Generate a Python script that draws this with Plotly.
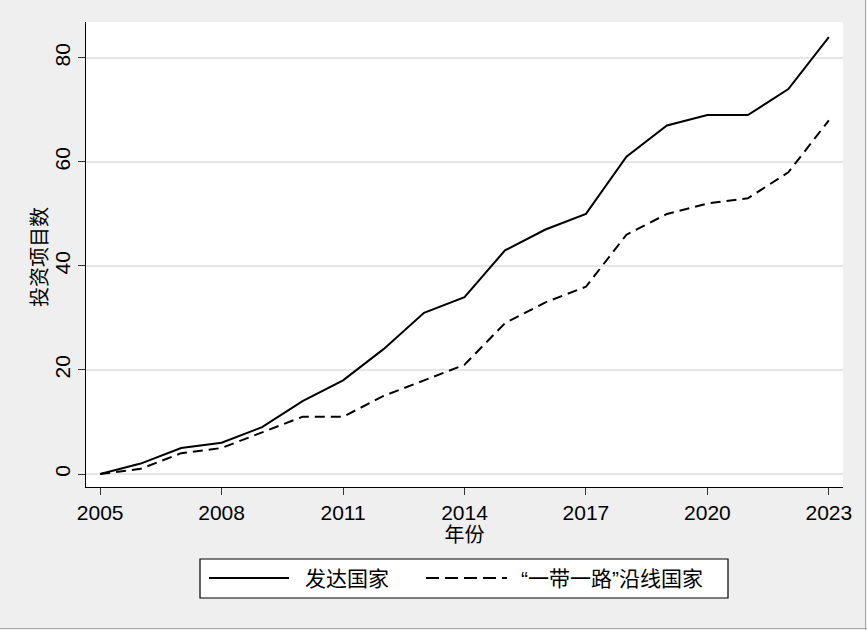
import plotly.graph_objects as go

years = list(range(2005, 2024))
developed = [0, 2, 5, 6, 9, 14, 18, 24, 31, 34, 43, 47, 50, 61, 67, 69, 69, 74, 84]
belt_road = [0, 1, 4, 5, 8, 11, 11, 15, 18, 21, 29, 33, 36, 46, 50, 52, 53, 58, 68]
series_names = ["发达国家", "“一带一路”沿线国家"]
x_ticks = [2005, 2008, 2011, 2014, 2017, 2020, 2023]
y_ticks = [0, 20, 40, 60, 80]
y_title = "投资项目数"
x_title = "年份"

font_family = "Liberation Sans, Arial, Noto Sans CJK SC, sans-serif"

W, H = 867, 630
L, R, T, B = 86, 24, 22, 143
PW, PH = W - L - R, H - T - B


def px(xp):
    return (xp - L) / PW


def py(yp):
    return (H - B - yp) / PH


fig = go.Figure()
fig.add_trace(go.Scatter(x=years, y=developed, mode="lines", name=series_names[0],
                         line=dict(color="black", width=2), showlegend=False))
fig.add_trace(go.Scatter(x=years, y=belt_road, mode="lines", name=series_names[1],
                         line=dict(color="black", width=2, dash="10px,6px"), showlegend=False))

shapes = []
annotations = []
# legend box
shapes.append(dict(type="rect", xref="paper", yref="paper",
                   x0=px(200), x1=px(728), y0=py(598), y1=py(559),
                   line=dict(color="black", width=1.2), fillcolor="white", layer="above"))
# legend entries
ly = py(578)
shapes.append(dict(type="line", xref="paper", yref="paper", x0=px(209), x1=px(289), y0=ly, y1=ly,
                   line=dict(color="black", width=2)))
shapes.append(dict(type="line", xref="paper", yref="paper", x0=px(426), x1=px(507), y0=ly, y1=ly,
                   line=dict(color="black", width=2, dash="13px,6px")))
annotations.append(dict(text=series_names[0], xref="paper", yref="paper", x=px(303), y=ly,
                        xanchor="left", yanchor="middle", showarrow=False,
                        font=dict(size=21, family=font_family, color="black")))
annotations.append(dict(text=series_names[1], xref="paper", yref="paper", x=px(519), y=ly,
                        xanchor="left", yanchor="middle", showarrow=False,
                        font=dict(size=21, family=font_family, color="black")))
# y-axis title
annotations.append(dict(text=y_title, xref="paper", yref="paper", x=px(40), y=py(257),
                        xanchor="center", yanchor="middle", showarrow=False, textangle=-90,
                        font=dict(size=20, family=font_family, color="black")))
# outer frame lines (right & bottom edge)
shapes.append(dict(type="line", xref="paper", yref="paper", x0=px(865.5), x1=px(865.5),
                   y0=py(630), y1=py(0), line=dict(color="#a8a8a8", width=1)))
shapes.append(dict(type="line", xref="paper", yref="paper", x0=px(0), x1=px(867),
                   y0=py(628.5), y1=py(628.5), line=dict(color="#a8a8a8", width=1)))

fig.update_layout(
    width=W, height=H,
    margin=dict(l=L, r=R, t=T, b=B),
    paper_bgcolor="#efefef",
    plot_bgcolor="white",
    font=dict(family=font_family, color="black", size=21),
    showlegend=False,
    shapes=shapes,
    annotations=annotations,
)
fig.update_xaxes(range=[2004.65, 2023.35], tickvals=x_ticks, ticks="outside", ticklen=7,
                 tickcolor="#333333", showline=True, linecolor="black", linewidth=1,
                 showgrid=False, zeroline=False, mirror=False,
                 title=dict(text=x_title, font=dict(size=20), standoff=2),
                 tickfont=dict(size=21))
fig.update_yaxes(range=[-2.5, 86.9], tickvals=y_ticks, ticks="outside", ticklen=7,
                 tickcolor="#333333", showline=True, linecolor="black", linewidth=1,
                 showgrid=True, gridcolor="#e6e6e6", gridwidth=1.5, zeroline=False,
                 tickangle=-90,
                 tickfont=dict(size=21))

fig.write_html("out.html")
